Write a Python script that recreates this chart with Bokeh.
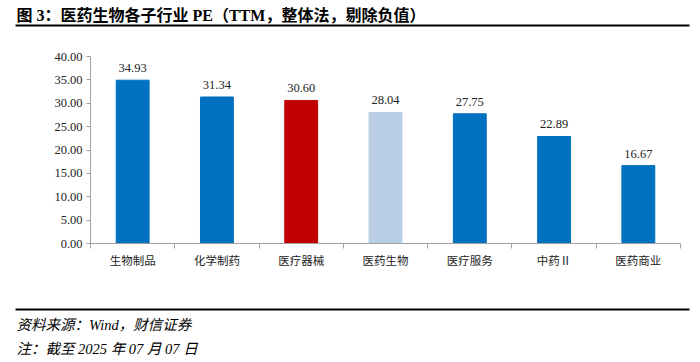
from bokeh.plotting import figure
from bokeh.models import (Range1d, ColumnDataSource, LabelSet, Label, FixedTicker,
                          SingleIntervalTicker, NumeralTickFormatter)
from bokeh.embed import file_html
from bokeh.resources import INLINE

# ---- data ----
categories = ["生物制品", "化学制药", "医疗器械", "医药生物", "医疗服务", "中药Ⅱ", "医药商业"]
pe_values = [34.93, 31.34, 30.60, 28.04, 27.75, 22.89, 16.67]
bar_colors = ["#0070C0", "#0070C0", "#C00000", "#B9CDE5", "#0070C0", "#0070C0", "#0070C0"]
title_text = "图 3：医药生物各子行业 PE（TTM，整体法，剔除负值）"
source_text = "资料来源：Wind，财信证券"
note_text = "注：截至 2025 年 07 月 07 日"
y_max, y_step = 40, 5

SERIF = "Liberation Serif, Noto Sans CJK SC"
W, H = 692, 360
# plot area placement on the canvas (px)
AX_L, AX_R, AX_T, AX_B = 90, 680, 56, 243

n = len(categories)
kx = (AX_R - AX_L) / n          # px per category
ky = (AX_B - AX_T) / y_max      # px per unit


def dx(cx):  # canvas px -> data x
    return (cx - AX_L) / kx


def dy(cy):  # canvas px (from top) -> data y
    return (AX_B - cy) / ky


xs = [i + 0.5 for i in range(n)]
src = ColumnDataSource(dict(x=xs, top=pe_values, color=bar_colors,
                            label=[f"{v:.2f}" for v in pe_values]))

p = figure(width=W, height=H, output_backend="svg", toolbar_location=None,
           x_range=Range1d(dx(0), dx(W)), y_range=Range1d(dy(H), dy(0)),
           min_border=0, min_border_left=0, min_border_right=0,
           min_border_top=0, min_border_bottom=0)
p.outline_line_color = None
p.grid.visible = False
p.background_fill_color = "white"
p.border_fill_color = "white"

p.vbar(x="x", top="top", width=0.39, bottom=0, color="color", source=src)
p.add_layout(LabelSet(x="x", y="top", text="label", source=src, text_align="center",
                      text_baseline="alphabetic", y_offset=8, text_font="Liberation Serif",
                      text_font_size="12.5px", text_color="#222222"))

# y axis (drawn at x = 0)
ya = p.yaxis[0]
ya.fixed_location = 0
ya.bounds = (0, y_max)
ya.ticker = SingleIntervalTicker(interval=y_step, num_minor_ticks=0)
ya.formatter = NumeralTickFormatter(format="0.00")
ya.axis_line_color = "#A0A0A0"
ya.major_tick_line_color = "#A0A0A0"
ya.major_tick_out = 4
ya.major_tick_in = 0
ya.minor_tick_line_color = None
ya.major_label_standoff = 4
ya.major_label_text_font = "Liberation Serif"
ya.major_label_text_font_size = "12.5px"
ya.major_label_text_color = "#222222"

# x axis (drawn at y = 0)
xa = p.xaxis[0]
xa.fixed_location = 0
xa.bounds = (0, n)
xa.ticker = FixedTicker(ticks=xs, minor_ticks=list(range(n + 1)))
xa.major_label_overrides = {x: c for x, c in zip(xs, categories)}
xa.axis_line_color = "#A0A0A0"
xa.major_tick_line_color = None
xa.major_tick_out = 0
xa.major_tick_in = 0
xa.minor_tick_line_color = "#A0A0A0"
xa.minor_tick_out = 5
xa.minor_tick_in = 0
xa.major_label_standoff = 6
xa.major_label_text_font = SERIF
xa.major_label_text_font_size = "11.5px"
xa.major_label_text_color = "#222222"

# title
p.add_layout(Label(x=dx(16), y=dy(15), text=title_text, text_font=SERIF,
                   text_font_style="bold", text_font_size="16px", text_color="black",
                   text_baseline="middle"))
# rules under the title and above the notes
for cy in (25, 309):
    p.segment(x0=[dx(15)], y0=[dy(cy)], x1=[dx(689)], y1=[dy(cy)],
              line_color="black", line_width=2.2)
# notes
p.add_layout(Label(x=dx(16), y=dy(324), text=source_text, text_font=SERIF,
                   text_font_style="italic", text_font_size="14.5px", text_color="black",
                   text_baseline="middle"))
p.add_layout(Label(x=dx(16), y=dy(348), text=note_text, text_font=SERIF,
                   text_font_style="italic", text_font_size="14.5px", text_color="black",
                   text_baseline="middle"))

open("out.html", "w").write(file_html(p, INLINE))
